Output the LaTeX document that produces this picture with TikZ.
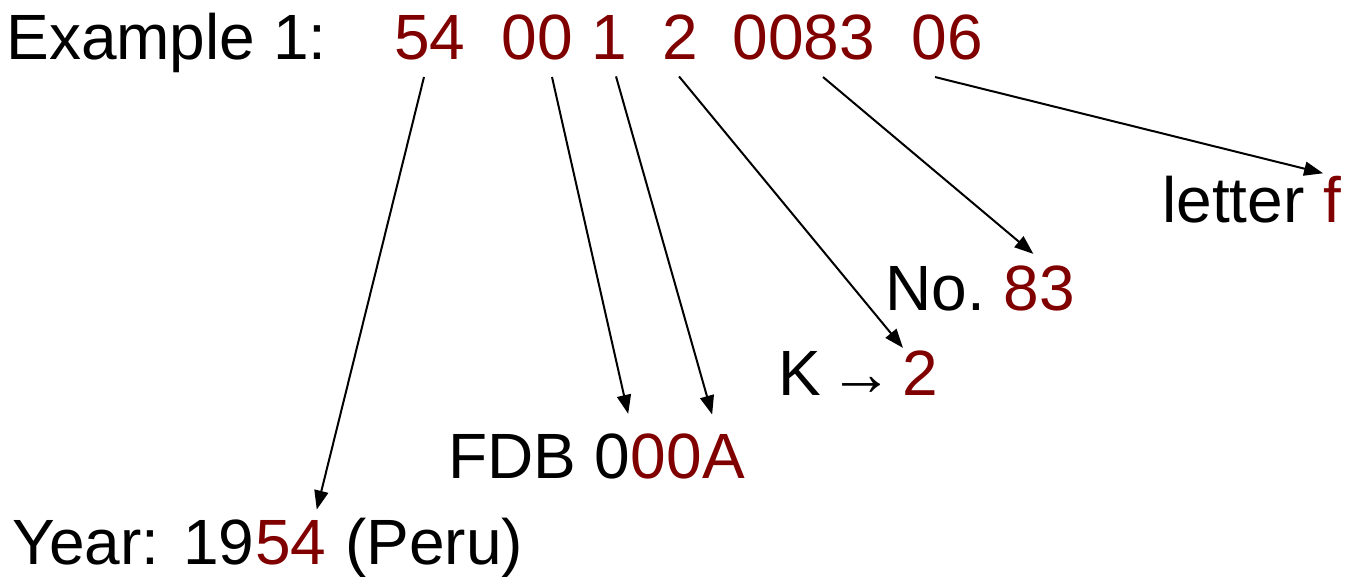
\documentclass[tikz,border=0pt]{standalone}
\usepackage{fontspec}
\setmainfont{Liberation Sans}
\usetikzlibrary{arrows.meta}
\definecolor{darkred}{RGB}{128,0,0}
\tikzset{
  txt/.style={inner sep=0pt, font=\fontsize{32}{38}\selectfont, anchor=base west},
  num/.style={txt, text=darkred},
  pointer/.style={-{Triangle[length=9.5pt,width=7pt]}, line width=1pt},
}
\begin{document}
\begin{tikzpicture}[x=0.5pt,y=-0.5pt]
\useasboundingbox (0,0) rectangle (1345,577);
% code line
\node[txt] (ex) at (6,60) {Example 1:};
\node[num,anchor=base] (g54) at (430,60) {54};
\node[num,anchor=base] (g00) at (537.5,60) {00};
\node[num,anchor=base] (g1) at (609.5,60) {1};
\node[num,anchor=base] (g2) at (680,60) {2};
\node[num,anchor=base] (g0083) at (804,60) {0083};
\node[num,anchor=base] (g06) at (947.5,60) {06};

% meanings
\node[txt] (yr) at (12,564) {Year: 19};
\node[num] (yr54) at (yr.base east) {54};
\node[txt] (yrc) at ([xshift=9pt]yr54.base east) {(Peru)};

\node[txt] (fdb) at (448,479) {FDB 0};
\node[num] (fdb0) at (fdb.base east) {00};
\node[num] (fdba) at (fdb0.base east) {A};

\node[txt] (k) at (778,395) {K};
\node[txt,anchor=base] (karr) at (861,395) {→};
\node[num] (k2) at (902,395) {2};

\node[txt] (no) at (885,311) {No.};
\node[num] (no83) at ([xshift=9pt]no.base east) {83};

\node[txt] (let) at (1162,223) {letter};
\node[num] (letf) at ([xshift=9pt]let.base east) {f};

\draw[pointer] ([shift={(-6,16)}]g54.south) -- ([shift={(-10,-10)}]yr54.north east);
\draw[pointer] ([shift={(14.5,16)}]g00.south) -- ([shift={(-2,-20)}]fdb0.north west);
\draw[pointer] ([shift={(6.5,16)}]g1.south) -- ([shift={(10,-20)}]fdba.north west);
\draw[pointer] ([shift={(-1,16)}]g2.south) -- ([shift={(1,-2)}]k2.north west);
\draw[pointer] ([shift={(19,16)}]g0083.south) -- ([shift={(30,-12)}]no83.north west);
\draw[pointer] ([shift={(-12.5,16)}]g06.south) -- ([shift={(0,-3)}]letf.north west);
\end{tikzpicture}
\end{document}
